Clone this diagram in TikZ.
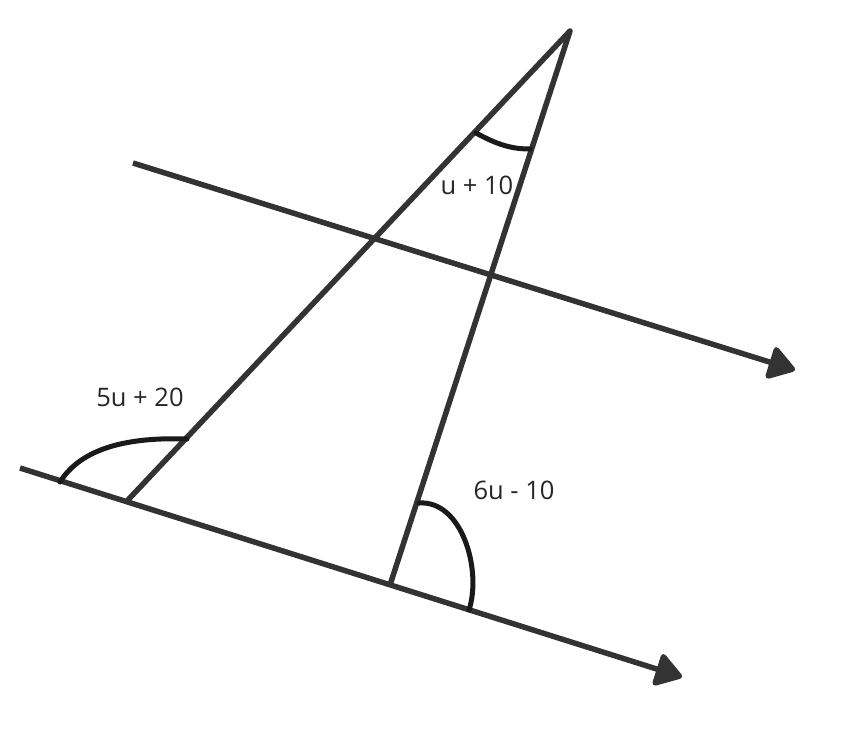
\documentclass[tikz,border=0pt]{standalone}
\usepackage{fontspec}
\setmainfont{Open Sans}
\usetikzlibrary{arrows.meta}
\definecolor{linec}{HTML}{333333}
\definecolor{arcc}{HTML}{1A1A1A}
\begin{document}
\begin{tikzpicture}[x=1pt,y=-1pt,
  mainline/.style={draw=linec,line width=5.5pt},
  arrowline/.style={mainline,-{Triangle[length=29pt,width=36pt,round]}},
  anglearc/.style={draw=arcc,line width=5pt,line cap=round},
  lbl/.style={font=\fontsize{25.5}{28}\selectfont,text=black!85,inner sep=0pt}]
\useasboundingbox (0,0) rectangle (849,732);
\coordinate (A) at (570,31);
\coordinate (L) at (127,501);
\coordinate (R) at (390,585);
\coordinate (T1) at (133,163);
\coordinate (T2) at (795,370);
\coordinate (B1) at (20,468);
\coordinate (B2) at (682,677);
\draw[arrowline] (T1) -- (T2);
\draw[arrowline] (B1) -- (B2);
\draw[mainline,line join=round] (L) -- (A) -- (R);
\coordinate (a1) at (476,133);
\coordinate (a2) at (530,149);
\coordinate (b1) at (60,482);
\coordinate (b2) at (187,439);
\coordinate (c1) at (419,503);
\coordinate (c2) at (469,610);
\draw[anglearc] (a1) .. controls (498,145) and (512,149) .. (a2);
\draw[anglearc] (b1) .. controls (82,447) and (130,437) .. (b2);
\draw[anglearc] (c1) .. controls (462,500) and (482,570) .. (c2);
\node[lbl] (l1) at (477,185) {u + 10};
\node[lbl] (l2) at (140,397) {5u + 20};
\node[lbl] (l3) at (514,490) {6u - 10};
\end{tikzpicture}
\end{document}
